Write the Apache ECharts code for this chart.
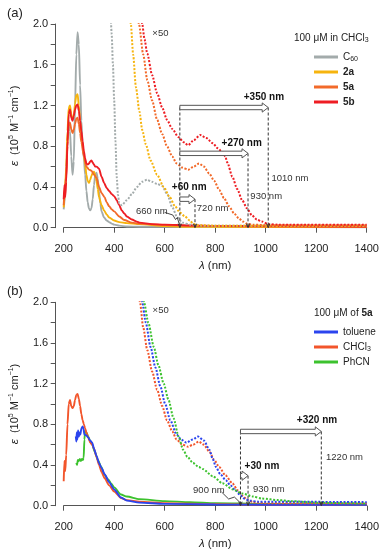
<!DOCTYPE html>
<html>
<head>
<meta charset="UTF-8" />
<title>Absorption spectra</title>
<script src="https://cdn.jsdelivr.net/npm/echarts@6/dist/echarts.min.js"></script>
<style>
  html, body { margin: 0; padding: 0; background: #fff; }
  #main { width: 382px; height: 552px; }
</style>
</head>
<body>
<div id="main"></div>
<script>
// panel (a): 100 uM in CHCl3, points are [wavelength nm, eps / 1e5]
const c60 = [[200,0.18],[205,0.3],[210,0.55],[215,0.85],[220,1.05],[225,0.95],[230,0.7],[235,0.52],[240,0.65],[245,1.2],[250,1.7],[255,1.92],[260,1.8],[265,1.4],[270,1.05],[275,0.82],[280,0.68],[285,0.52],[290,0.36],[295,0.25],[300,0.19],[305,0.17],[310,0.19],[315,0.28],[320,0.42],[325,0.52],[330,0.54],[335,0.48],[340,0.35],[345,0.24],[350,0.16],[360,0.1],[370,0.07],[380,0.055],[390,0.04],[400,0.03],[420,0.02],[450,0.012],[500,0.01],[600,0.008],[800,0.006],[1400,0.005]]
const c2a = [[200,0.2],[205,0.35],[210,0.6],[215,0.95],[220,1.18],[225,1.2],[230,1.12],[235,1.06],[240,1.1],[245,1.22],[250,1.3],[255,1.31],[260,1.2],[265,1.05],[270,0.9],[275,0.8],[280,0.72],[285,0.62],[290,0.52],[295,0.46],[300,0.44],[305,0.47],[310,0.51],[315,0.54],[320,0.55],[325,0.52],[330,0.46],[335,0.38],[340,0.3],[350,0.22],[360,0.17],[370,0.13],[380,0.1],[400,0.07],[420,0.055],[450,0.045],[500,0.035],[600,0.015],[700,0.01],[800,0.008],[1400,0.006]]
const c5a = [[200,0.22],[205,0.4],[210,0.5],[215,0.8],[220,1.0],[225,1.03],[230,0.97],[235,0.93],[240,0.96],[245,1.02],[250,1.07],[255,1.08],[260,1.02],[265,0.93],[270,0.84],[280,0.7],[290,0.6],[300,0.57],[310,0.56],[320,0.52],[330,0.49],[340,0.4],[350,0.34],[362,0.3],[370,0.25],[380,0.21],[390,0.18],[400,0.16],[420,0.11],[440,0.075],[470,0.05],[500,0.04],[600,0.025],[700,0.02],[800,0.015],[1000,0.012],[1400,0.01]]
const c5b = [[200,0.28],[203,0.42],[206,0.3],[210,0.45],[215,0.85],[220,1.12],[225,1.16],[230,1.08],[235,1.05],[240,1.1],[245,1.16],[250,1.2],[255,1.21],[260,1.15],[265,1.05],[270,0.95],[275,0.85],[280,0.75],[285,0.68],[290,0.63],[295,0.62],[300,0.63],[305,0.65],[310,0.66],[315,0.64],[320,0.62],[325,0.6],[330,0.6],[340,0.58],[350,0.5],[360,0.44],[370,0.39],[380,0.36],[390,0.33],[400,0.31],[410,0.27],[420,0.22],[430,0.17],[440,0.14],[450,0.11],[470,0.08],[490,0.06],[500,0.05],[550,0.035],[600,0.03],[700,0.022],[800,0.018],[1000,0.015],[1400,0.012]]
// x50 traces
const c60x50 = [[385,2.2],[390,1.9],[395,1.6],[400,1.25],[405,0.85],[410,0.5],[415,0.32],[420,0.24],[430,0.22],[450,0.27],[470,0.33],[490,0.4],[510,0.45],[530,0.47],[550,0.45],[570,0.43],[590,0.41],[610,0.33],[630,0.2],[650,0.1],[670,0.05],[700,0.03],[750,0.02],[1400,0.02]]
const c2ax50 = [[460,2.2],[466,2.0],[475,1.7],[486,1.38],[500,1.14],[511,0.96],[525,0.82],[544,0.66],[570,0.52],[596,0.4],[620,0.3],[641,0.21],[660,0.15],[680,0.11],[700,0.07],[712,0.04],[725,0.025],[800,0.02],[1400,0.02]]
const c5ax50 = [[490,2.2],[498,2.0],[515,1.7],[531,1.45],[550,1.25],[570,1.06],[590,0.92],[609,0.8],[630,0.7],[647,0.63],[670,0.59],[693,0.57],[715,0.6],[736,0.63],[755,0.6],[777,0.53],[796,0.46],[816,0.37],[835,0.29],[855,0.21],[875,0.14],[894,0.09],[910,0.06],[926,0.04],[950,0.03],[1000,0.025],[1400,0.025]]
const c5bx50 = [[505,2.2],[511,2.0],[520,1.85],[531,1.71],[550,1.5],[570,1.32],[590,1.18],[609,1.06],[630,0.97],[654,0.89],[675,0.84],[693,0.81],[715,0.86],[741,0.91],[765,0.88],[790,0.83],[810,0.78],[829,0.74],[840,0.7],[848,0.64],[868,0.5],[887,0.38],[907,0.27],[926,0.19],[946,0.12],[965,0.08],[985,0.06],[1010,0.035],[1050,0.03],[1400,0.03]]

// panel (b): 100 uM of 5a in three solvents
const tol = [[248,0.68],[250,0.63],[252,0.72],[254,0.65],[257,0.74],[260,0.68],[263,0.72],[266,0.7],[270,0.76],[275,0.78],[278,0.76],[282,0.7],[290,0.69],[297,0.67],[305,0.64],[313,0.62],[320,0.56],[330,0.49],[340,0.42],[350,0.37],[362,0.31],[380,0.23],[400,0.16],[427,0.08],[450,0.05],[500,0.03],[600,0.018],[800,0.012],[1000,0.01],[1400,0.01]]
const chcl3 = [[200,0.24],[203,0.44],[206,0.34],[210,0.5],[215,0.8],[220,1.0],[225,1.04],[230,0.98],[235,0.96],[240,0.98],[245,1.04],[250,1.09],[255,1.1],[260,1.05],[265,0.98],[270,0.9],[275,0.84],[280,0.8],[285,0.76],[290,0.72],[297,0.67],[305,0.62],[313,0.6],[320,0.56],[330,0.48],[340,0.4],[350,0.33],[362,0.27],[380,0.2],[400,0.14],[427,0.075],[450,0.055],[500,0.04],[600,0.025],[800,0.015],[1000,0.01],[1400,0.008]]
const phcn = [[250,0.42],[253,0.4],[256,0.45],[260,0.44],[264,0.46],[268,0.44],[272,0.46],[276,0.45],[279,0.47],[282,0.65],[285,0.74],[290,0.72],[297,0.68],[304,0.64],[313,0.6],[323,0.53],[335,0.45],[349,0.38],[360,0.31],[375,0.26],[388,0.22],[400,0.18],[427,0.11],[450,0.09],[500,0.065],[600,0.045],[700,0.035],[800,0.025],[1000,0.017],[1400,0.012]]
const tolx50 = [[505,2.2],[511,2.0],[525,1.8],[544,1.56],[563,1.36],[583,1.17],[602,1.0],[622,0.84],[647,0.7],[665,0.65],[686,0.62],[710,0.65],[732,0.68],[755,0.64],[777,0.55],[790,0.46],[803,0.38],[820,0.31],[842,0.25],[860,0.2],[881,0.15],[900,0.1],[914,0.07],[935,0.05],[970,0.04],[1400,0.035]]
const chcl3x50 = [[495,2.2],[502,2.0],[515,1.75],[531,1.53],[550,1.32],[570,1.14],[590,0.98],[609,0.84],[630,0.73],[647,0.65],[670,0.6],[693,0.58],[712,0.6],[735,0.63],[755,0.6],[777,0.53],[796,0.45],[816,0.38],[840,0.3],[868,0.22],[890,0.15],[907,0.1],[926,0.06],[950,0.035],[1000,0.025],[1400,0.025]]
const phcnx50 = [[512,2.2],[518,2.0],[535,1.8],[557,1.56],[575,1.38],[596,1.2],[615,1.04],[635,0.86],[655,0.68],[673,0.55],[690,0.48],[712,0.42],[735,0.38],[751,0.36],[790,0.29],[829,0.22],[870,0.16],[907,0.12],[950,0.09],[985,0.07],[1050,0.055],[1101,0.045],[1200,0.03],[1300,0.025],[1400,0.02]]

// annotations: arrows [from nm, to nm, y], drop lines [nm, top y], labels [nm, y, text, bold]
const arrowsA = [[660,1010,1.18],[660,930,0.73],[660,720,0.28]]
const dropsA = [[660,1.18],[1010,1.18],[930,0.73],[720,0.28]]
const labelsA = [[993,1.276,'+350 nm',1],[905,0.83,'+270 nm',1],[697,0.40,'+60 nm',1],[549,0.157,'660 nm',0],[790,0.19,'720 nm',0],[1002,0.31,'930 nm',0],[1096,0.485,'1010 nm',0],[583,1.91,'×50',0]]
const leaderA = [[600,0.15],[632,0.125],[643,0.08],[650,0.1],[657,0.04]]
const arrowsB = [[900,1220,0.73],[900,930,0.295]]
const dropsB = [[900,0.73],[1220,0.73],[930,0.295]]
const labelsB = [[1203,0.836,'+320 nm',1],[985,0.383,'+30 nm',1],[1012,0.164,'930 nm',0],[775,0.147,'900 nm',0],[1312,0.48,'1220 nm',0],[584,1.924,'×50',0]]
const leaderB = [[825,0.135],[853,0.066],[876,0.085],[900,0.027]]

const xTicks = { min: 200, max: 1400, interval: 200 }
const yTicks = { min: 0, max: 2, interval: 0.4 }

const FONT = 'Liberation Sans, Arial, sans-serif'
const col = { c60: '#a3abab', c2a: '#f6b40e', c5a: '#f26a2a', c5b: '#ee1d23', tol: '#2b44ee', chcl3: '#f2552b', phcn: '#3cc22e' }

function solid(name, data, color, g) {
  return { name, type: 'line', data, xAxisIndex: g, yAxisIndex: g, symbol: 'none', smooth: 0.25, smoothMonotone: 'x',
    lineStyle: { color, width: 1.9 }, itemStyle: { color }, z: 3 }
}
function dotted(name, data, color, g) {
  return { name, type: 'line', data, xAxisIndex: g, yAxisIndex: g, symbol: 'none', smooth: 0.25, smoothMonotone: 'x',
    lineStyle: { color, width: 2, type: [2, 1.6] }, itemStyle: { color }, z: 4 }
}

function arrowSeries(list, g) {
  return { type: 'custom', xAxisIndex: g, yAxisIndex: g, data: list, encode: { x: [0, 1], y: 2 }, z: 6,
    renderItem(params, api) {
      const a = api.coord([api.value(0), api.value(2)])
      const b = api.coord([api.value(1), api.value(2)])
      const hs = 2.2, hh = 4.6, hl = 6, y = a[1]
      return { type: 'polygon',
        shape: { points: [[a[0], y - hs], [b[0] - hl, y - hs], [b[0] - hl, y - hh], [b[0], y], [b[0] - hl, y + hh], [b[0] - hl, y + hs], [a[0], y + hs]] },
        style: { fill: '#fff', stroke: '#555', lineWidth: 1 } }
    } }
}
function dropSeries(list, g) {
  return { type: 'custom', xAxisIndex: g, yAxisIndex: g, data: list, z: 5,
    renderItem(params, api) {
      const t = api.coord([api.value(0), api.value(1)])
      const b = api.coord([api.value(0), 0])
      return { type: 'group', children: [
        { type: 'line', shape: { x1: t[0], y1: t[1], x2: b[0], y2: b[1] }, style: { stroke: '#333', lineWidth: 1, lineDash: [3, 2] } },
        { type: 'polyline', shape: { points: [[b[0] - 1.6, b[1] - 4], [b[0], b[1]], [b[0] + 1.6, b[1] - 4]] }, style: { stroke: '#333', fill: null, lineWidth: 1 } }
      ] }
    } }
}
function labelSeries(list, g) {
  return { type: 'custom', xAxisIndex: g, yAxisIndex: g, data: list.map(d => [d[0], d[1]]), z: 7,
    renderItem(params, api) {
      const d = list[params.dataIndex]
      const p = api.coord([d[0], d[1]])
      return { type: 'text', x: p[0], y: p[1],
        style: { text: d[2], fontFamily: FONT, fontSize: d[3] ? 10 : 9.5, fontWeight: d[3] ? 'bold' : 'normal',
          fill: d[3] ? '#111' : '#333', align: 'center', verticalAlign: 'middle' } }
    } }
}
function leaderSeries(list, g) {
  return { type: 'custom', xAxisIndex: g, yAxisIndex: g, data: [list[0]], z: 7,
    renderItem(params, api) {
      return { type: 'polyline', shape: { points: list.map(p => api.coord(p)) }, style: { stroke: '#333', fill: null, lineWidth: 0.9 } }
    } }
}

function xAxis(g) {
  return { type: 'value', gridIndex: g, ...xTicks, offset: 7,
    name: '{i|λ} (nm)', nameLocation: 'middle', nameGap: 25,
    nameTextStyle: { fontFamily: FONT, fontSize: 11.5, color: '#222', rich: { i: { fontStyle: 'italic', fontFamily: FONT, fontSize: 11.5, color: '#222' } } },
    axisLine: { lineStyle: { color: '#555', width: 1 } },
    axisTick: { length: 5, lineStyle: { color: '#555' } },
    axisLabel: { fontFamily: FONT, fontSize: 11, color: '#222', margin: 9, formatter: v => String(v) },
    splitLine: { show: false } }
}
function yAxis(g) {
  return { type: 'value', gridIndex: g, ...yTicks, offset: 8.5,
    name: '{i|ε}  (10{sup|5} M{sup|−1} cm{sup|−1})', nameLocation: 'middle', nameGap: 30,
    nameTextStyle: { fontFamily: FONT, fontSize: 11, color: '#222', lineHeight: 14,
      rich: { i: { fontStyle: 'italic', fontFamily: FONT, fontSize: 11.5, color: '#222', lineHeight: 14 },
        sup: { fontFamily: FONT, fontSize: 7, color: '#222', verticalAlign: 'top', lineHeight: 8 } } },
    axisLine: { show: true, lineStyle: { color: '#555', width: 1 } },
    axisTick: { show: true, length: 4.5, lineStyle: { color: '#555' } },
    minorTick: { show: true, splitNumber: 2, length: 4.5, lineStyle: { color: '#555' } },
    axisLabel: { fontFamily: FONT, fontSize: 11, color: '#222', margin: 7, formatter: v => v.toFixed(1) },
    splitLine: { show: false } }
}

const legendRich = {
  b: { fontWeight: 'bold', fontFamily: FONT, fontSize: 10, color: '#222', lineHeight: 12 },
  n: { fontFamily: FONT, fontSize: 10, color: '#222', lineHeight: 12 },
  s: { fontFamily: FONT, fontSize: 7, color: '#222', verticalAlign: 'bottom', lineHeight: 9 }
}
const legendNames = { C60: '{n|C}{s|60}', '2a': '{b|2a}', '5a': '{b|5a}', '5b': '{b|5b}', toluene: '{n|toluene}', CHCl3: '{n|CHCl}{s|3}', PhCN: '{n|PhCN}' }
function legend(names, top) {
  return { data: names, orient: 'vertical', left: 309, top, icon: 'rect', itemWidth: 24, itemHeight: 3, itemGap: 3,
    formatter: n => legendNames[n], textStyle: { fontFamily: FONT, fontSize: 10, color: '#222', lineHeight: 12, rich: legendRich },
    selectedMode: false }
}

const chart = echarts.init(document.getElementById('main'))
chart.setOption({
  animation: false,
  backgroundColor: '#fff',
  textStyle: { fontFamily: FONT },
  title: [
    { text: '(a)', left: 2, top: 2, textStyle: { fontFamily: FONT, fontSize: 13, fontWeight: 'normal', color: '#222' } },
    { text: '(b)', left: 2, top: 280, textStyle: { fontFamily: FONT, fontSize: 13, fontWeight: 'normal', color: '#222' } },
    { text: '100 μM in CHCl{s|3}', left: 289, top: 27,
      textStyle: { fontFamily: FONT, fontSize: 10, fontWeight: 'normal', color: '#222', lineHeight: 12, rich: { s: legendRich.s } } },
    { text: '100 μM of {b|5a}', left: 309, top: 302,
      textStyle: { fontFamily: FONT, fontSize: 10, fontWeight: 'normal', color: '#222', lineHeight: 12, rich: { b: legendRich.b } } }
  ],
  legend: [legend(['C60', '2a', '5a', '5b'], 46), legend(['toluene', 'CHCl3', 'PhCN'], 321)],
  grid: [
    { left: 58.3, top: 24, width: 308.4, height: 203.7 },
    { left: 58.5, top: 302.3, width: 308.5, height: 203.4 }
  ],
  xAxis: [xAxis(0), xAxis(1)],
  yAxis: [yAxis(0), yAxis(1)],
  series: [
    solid('C60', c60, col.c60, 0),
    solid('2a', c2a, col.c2a, 0),
    solid('5a', c5a, col.c5a, 0),
    solid('5b', c5b, col.c5b, 0),
    dotted('C60 x50', c60x50, col.c60, 0),
    dotted('2a x50', c2ax50, col.c2a, 0),
    dotted('5a x50', c5ax50, col.c5a, 0),
    dotted('5b x50', c5bx50, col.c5b, 0),
    dropSeries(dropsA, 0),
    arrowSeries(arrowsA, 0),
    labelSeries(labelsA, 0),
    leaderSeries(leaderA, 0),

    solid('PhCN', phcn, col.phcn, 1),
    solid('CHCl3', chcl3, col.chcl3, 1),
    solid('toluene', tol, col.tol, 1),
    dotted('CHCl3 x50', chcl3x50, col.chcl3, 1),
    dotted('toluene x50', tolx50, col.tol, 1),
    dotted('PhCN x50', phcnx50, col.phcn, 1),
    dropSeries(dropsB, 1),
    arrowSeries(arrowsB, 1),
    labelSeries(labelsB, 1),
    leaderSeries(leaderB, 1)
  ]
})
</script>
</body>
</html>
